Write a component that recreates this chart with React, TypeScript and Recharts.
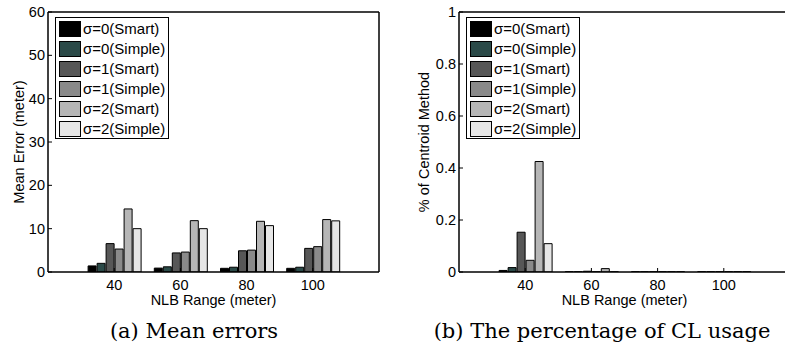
import { Bar, BarChart, Legend, XAxis, YAxis } from 'recharts'

const ranges = [40, 60, 80, 100]
const xTicks = [40, 60, 80, 100]
const errTicks = [0, 10, 20, 30, 40, 50, 60]
const clTicks = [0, 0.2, 0.4, 0.6, 0.8, 1]

const seriesNames = [
  'σ=0(Smart)',
  'σ=0(Simple)',
  'σ=1(Smart)',
  'σ=1(Simple)',
  'σ=2(Smart)',
  'σ=2(Simple)',
]
const seriesColors = ['#000000', '#2b4a48', '#575757', '#8a8a8a', '#b6b6b6', '#e6e6e6']

// mean error (meter), one array per series, ordered as ranges
const err0Smart = [1.4, 0.9, 0.85, 0.85]
const err0Simple = [2.0, 1.2, 1.1, 1.1]
const err1Smart = [6.55, 4.4, 4.9, 5.45]
const err1Simple = [5.3, 4.6, 5.05, 5.85]
const err2Smart = [14.55, 11.85, 11.7, 12.1]
const err2Simple = [10.0, 10.0, 10.7, 11.8]

// share of centroid (CL) method
const cl0Smart = [0.006, 0.001, 0.001, 0.001]
const cl0Simple = [0.017, 0.001, 0.001, 0.001]
const cl1Smart = [0.153, 0.003, 0.001, 0.001]
const cl1Simple = [0.045, 0.001, 0.001, 0.001]
const cl2Smart = [0.425, 0.013, 0.001, 0.001]
const cl2Simple = [0.109, 0.001, 0.001, 0.001]

const buildRows = (series: number[][]) =>
  ranges.map((r, i) => {
    const row: Record<string, number> = { range: r }
    series.forEach((arr, k) => {
      row['s' + k] = arr[i]
    })
    return row
  })

const errData = buildRows([err0Smart, err0Simple, err1Smart, err1Simple, err2Smart, err2Simple])
const clData = buildRows([cl0Smart, cl0Simple, cl1Smart, cl1Simple, cl2Smart, cl2Simple])

const sans = '"Liberation Sans", Arial, sans-serif'
const serif = '"DejaVu Serif", serif'

const LegendBox = () => (
  <div
    style={{
      border: '1.5px solid #000',
      background: '#fff',
      width: 114,
      height: 122,
      boxSizing: 'border-box',
      padding: '1px 0 0 3px',
    }}
  >
    {seriesNames.map((n, i) => (
      <div key={n} style={{ display: 'flex', alignItems: 'center', height: 20 }}>
        <span
          style={{
            width: 22,
            height: 16,
            background: seriesColors[i],
            border: '1.5px solid #000',
            boxSizing: 'border-box',
            marginRight: 2,
            flex: 'none',
          }}
        />
        <span
          style={{
            fontFamily: sans,
            fontSize: 15,
            color: '#000',
            lineHeight: '20px',
            whiteSpace: 'nowrap',
          }}
        >
          {n}
        </span>
      </div>
    ))}
  </div>
)

const yLabel = (text: string, shift: number) => (props: any) => {
  const vb = props.viewBox || {}
  const cx = vb.x + vb.width / 2 + shift
  const cy = vb.y + vb.height / 2
  return (
    <text
      transform={`translate(${cx},${cy}) rotate(-90)`}
      textAnchor="middle"
      dominantBaseline="central"
      fontFamily={sans}
      fontSize={14.5}
      fill="#000"
    >
      {text}
    </text>
  )
}

interface PanelProps {
  data: Record<string, number>[]
  yDomain: [number, number]
  yTicks: number[]
  label: string
  labelShift: number
  left: number
}

function Panel({ data, yDomain, yTicks, label, labelShift, left }: PanelProps) {
  const axisLine = { stroke: '#000', strokeWidth: 1.5 }
  const tickLine = { stroke: '#000', strokeWidth: 1 }
  const tickText = { fill: '#000', fontSize: 14.5, fontFamily: sans }
  return (
    <div style={{ position: 'absolute', left, top: 0 }}>
      <BarChart
        width={390}
        height={320}
        data={data}
        margin={{ top: 11, right: 10, bottom: 15, left: 0 }}
        barGap={1}
      >
        <XAxis
          xAxisId="b"
          dataKey="range"
          type="number"
          domain={[20, 120]}
          ticks={xTicks}
          allowDataOverflow
          height={33}
          axisLine={axisLine}
          tickLine={tickLine}
          tickSize={-4}
          tickMargin={12}
          tick={tickText}
          label={{
            value: 'NLB Range (meter)',
            position: 'insideBottom',
            offset: 0,
            fill: '#000',
            fontSize: 14.5,
            fontFamily: sans,
          }}
        />
        <XAxis
          xAxisId="t"
          orientation="top"
          dataKey="range"
          type="number"
          domain={[20, 120]}
          ticks={xTicks}
          allowDataOverflow
          height={1}
          axisLine={axisLine}
          tickLine={tickLine}
          tickSize={-4}
          tick={false}
        />
        <YAxis
          yAxisId="l"
          domain={yDomain}
          ticks={yTicks}
          allowDataOverflow
          width={48}
          axisLine={axisLine}
          tickLine={tickLine}
          tickSize={-4}
          tickMargin={7}
          tick={tickText}
          label={{ content: yLabel(label, labelShift) }}
        />
        <YAxis
          yAxisId="r"
          orientation="right"
          domain={yDomain}
          ticks={yTicks}
          allowDataOverflow
          width={1}
          axisLine={axisLine}
          tickLine={tickLine}
          tickSize={-4}
          tick={false}
        />
        <Legend
          layout="vertical"
          align="center"
          verticalAlign="middle"
          content={() => <LegendBox />}
          wrapperStyle={{ position: 'absolute', left: 55, top: 17, width: 114, height: 122 }}
        />
        {seriesNames.map((n, i) => (
          <Bar
            key={n}
            xAxisId="b"
            yAxisId="l"
            dataKey={'s' + i}
            name={n}
            fill={seriesColors[i]}
            stroke="#000"
            strokeWidth={1}
            barSize={8}
            isAnimationActive={false}
          />
        ))}
      </BarChart>
    </div>
  )
}

const captionStyle = {
  position: 'absolute' as const,
  top: 321,
  width: 400,
  textAlign: 'center' as const,
  fontFamily: serif,
  fontSize: 21,
  lineHeight: '20px',
  color: '#000',
  whiteSpace: 'nowrap' as const,
}

export default function App() {
  return (
    <div
      style={{
        position: 'absolute',
        left: 0,
        top: 0,
        width: 785,
        height: 351,
        overflow: 'hidden',
        background: '#fff',
      }}
    >
      <Panel
        data={errData}
        yDomain={[0, 60]}
        yTicks={errTicks}
        label="Mean Error (meter)"
        labelShift={-5}
        left={0}
      />
      <Panel
        data={clData}
        yDomain={[0, 1]}
        yTicks={clTicks}
        label="% of Centroid Method"
        labelShift={-11}
        left={411}
      />
      <div style={{ ...captionStyle, left: -6 }}>(a) Mean errors</div>
      <div style={{ ...captionStyle, left: 402 }}>(b) The percentage of CL usage</div>
    </div>
  )
}
